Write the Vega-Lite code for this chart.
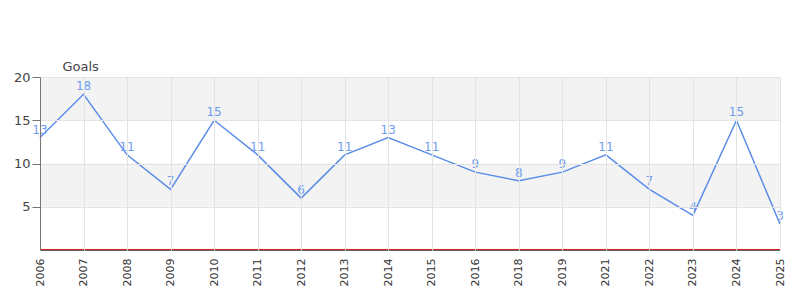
{
  "$schema": "https://vega.github.io/schema/vega-lite/v6.json",
  "width": 740,
  "height": 173,
  "autosize": "none",
  "padding": {"left": 40, "top": 77, "right": 20, "bottom": 50},
  "config": {"view": {"stroke": null}, "font": "DejaVu Sans"},
  "datasets": {
    "goals": [
      {"year": "2006", "goals": 13},
      {"year": "2007", "goals": 18},
      {"year": "2008", "goals": 11},
      {"year": "2009", "goals": 7},
      {"year": "2010", "goals": 15},
      {"year": "2011", "goals": 11},
      {"year": "2012", "goals": 6},
      {"year": "2013", "goals": 11},
      {"year": "2014", "goals": 13},
      {"year": "2015", "goals": 11},
      {"year": "2016", "goals": 9},
      {"year": "2018", "goals": 8},
      {"year": "2019", "goals": 9},
      {"year": "2021", "goals": 11},
      {"year": "2022", "goals": 7},
      {"year": "2023", "goals": 4},
      {"year": "2024", "goals": 15},
      {"year": "2025", "goals": 3}
    ],
    "bands": [
      {"lo": 5, "hi": 10},
      {"lo": 15, "hi": 20}
    ]
  },
  "layer": [
    {
      "data": {"name": "bands"},
      "mark": {"type": "rect", "fill": "#f3f3f3"},
      "encoding": {
        "y": {
          "field": "lo", "type": "quantitative",
          "scale": {"domain": [0, 20], "nice": false},
          "axis": {
            "values": [5, 10, 15, 20],
            "tickSize": 8,
            "tickColor": "#777",
            "domainColor": "#777",
            "zindex": 1,
            "grid": true,
            "gridColor": "#e3e3e3",
            "labelFontSize": 13, "labelColor": "#444", "labelPadding": 2,
            "title": "Goals", "titleAngle": 0, "titleAlign": "left", "titleBaseline": "bottom",
            "titleX": 22, "titleY": -4, "titleFontSize": 13, "titleFontWeight": "normal", "titleColor": "#444"
          }
        },
        "y2": {"field": "hi"}
      }
    },
    {
      "data": {"name": "goals"},
      "mark": {"type": "line", "color": "#5a8de8", "strokeWidth": 1.5},
      "encoding": {
        "x": {
          "field": "year", "type": "ordinal", "sort": null,
          "scale": {"type": "point", "padding": 0},
          "axis": {
            "title": null, "labelAngle": -90, "labelAlign": "right", "labelBaseline": "middle",
            "labelFontSize": 11, "labelColor": "#333", "labelPadding": 8,
            "ticks": false, "domain": false, "zindex": 1,
            "grid": true, "gridColor": "#e3e3e3", "gridWidth": 1
          }
        },
        "y": {"field": "goals", "type": "quantitative"}
      }
    },
    {
      "data": {"name": "goals"},
      "mark": {"type": "text", "color": "#6f9cef", "fontSize": 12, "dy": -8},
      "encoding": {
        "x": {"field": "year", "type": "ordinal", "sort": null},
        "y": {"field": "goals", "type": "quantitative"},
        "text": {"field": "goals", "type": "quantitative"}
      }
    },
    {
      "data": {"values": [{"v": 0}]},
      "mark": {"type": "rule", "color": "#666", "strokeWidth": 1, "yOffset": 0.5},
      "encoding": {"y": {"field": "v", "type": "quantitative"}}
    },
    {
      "data": {"values": [{"v": 0}]},
      "mark": {"type": "rule", "color": "#d62020", "strokeWidth": 1, "yOffset": -0.5},
      "encoding": {"y": {"field": "v", "type": "quantitative"}}
    }
  ]
}
